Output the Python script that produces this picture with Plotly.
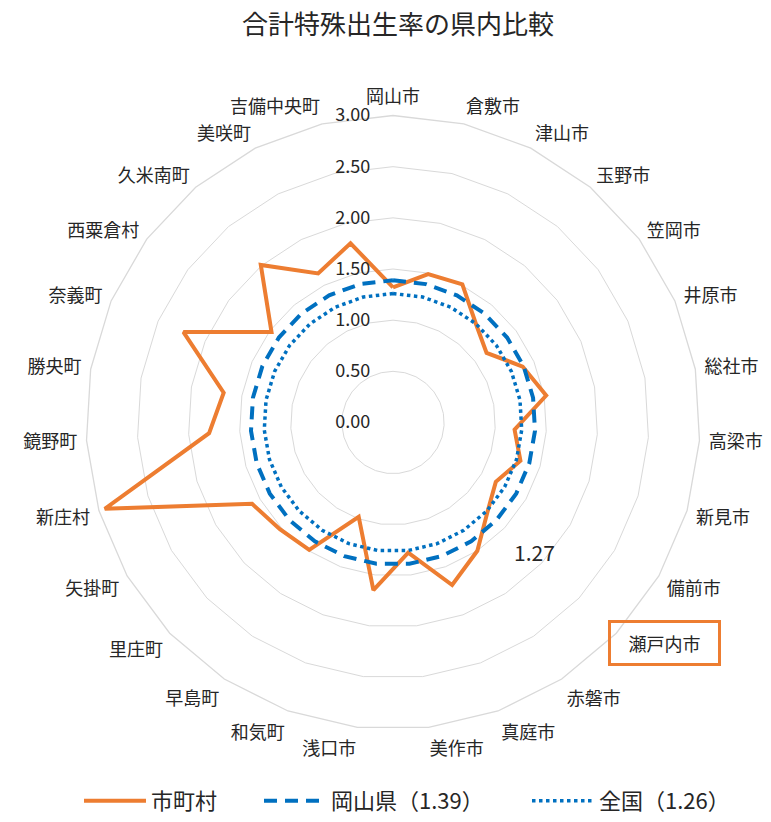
import plotly.graph_objects as go

categories = ["岡山市", "倉敷市", "津山市", "玉野市", "笠岡市", "井原市", "総社市", "高梁市", "新見市",
              "備前市", "瀬戸内市", "赤磐市", "真庭市", "美作市", "浅口市", "和気町", "早島町", "里庄町",
              "矢掛町", "新庄村", "鏡野町", "勝央町", "奈義町", "西粟倉村", "久米南町", "美咲町", "吉備中央町"]
municipal_tfr = [1.32, 1.49, 1.51, 1.26, 1.14, 1.38, 1.52, 1.19, 1.30,
                 1.16, 1.27, 1.50, 1.69, 1.28, 1.65, 0.98, 1.49, 1.52,
                 1.59, 2.94, 1.80, 1.68, 2.23, 1.48, 2.01, 1.63, 1.80]
pref_value = 1.39
national_value = 1.26
highlight = "瀬戸内市"
radial_ticks = [0, 0.5, 1.0, 1.5, 2.0, 2.5, 3.0]

FONT = "Noto Sans CJK JP"
ORANGE = "#ED7D31"
BLUE = "#0070C0"
TXT = "#262626"

theta_closed = categories + [categories[0]]
muni_closed = municipal_tfr + [municipal_tfr[0]]
pref_closed = [pref_value] * len(theta_closed)
nat_closed = [national_value] * len(theta_closed)
hl_value = municipal_tfr[categories.index(highlight)]
tick_text = ["" if c == highlight else c for c in categories]

fig = go.Figure()
fig.add_trace(go.Scatterpolar(r=muni_closed, theta=theta_closed, mode="lines", name="市町村",
                              line=dict(color=ORANGE, width=4), legend="legend"))
fig.add_trace(go.Scatterpolar(r=pref_closed, theta=theta_closed, mode="lines",
                              name=f"岡山県（{pref_value:.2f}）",
                              line=dict(color=BLUE, width=4, dash="13px,8px"), legend="legend2"))
fig.add_trace(go.Scatterpolar(r=nat_closed, theta=theta_closed, mode="lines",
                              name=f"全国（{national_value:.2f}）",
                              line=dict(color=BLUE, width=3.5, dash="3.5px,3.5px"), legend="legend3"))
fig.add_trace(go.Scatterpolar(r=[1.9], theta=[highlight], mode="text", text=[f"{hl_value:.2f}"],
                              textfont=dict(family=FONT, size=21, color=TXT),
                              showlegend=False, hoverinfo="skip"))

cx, cy, R = 393, 422.5, 307
W, H = 771, 822

legend_common = dict(orientation="h", yanchor="bottom", y=0.0,
                     itemwidth=62, font=dict(family=FONT, size=22, color=TXT), bgcolor="rgba(0,0,0,0)")

fig.update_layout(
    width=W, height=H,
    margin=dict(l=0, r=0, t=0, b=0),
    paper_bgcolor="white",
    font=dict(family=FONT, color=TXT),
    title=dict(text="合計特殊出生率の県内比較", x=398 / W, y=1 - 25 / H, xanchor="center", yanchor="middle",
               font=dict(family=FONT, size=26, color=TXT)),
    polar=dict(
        domain=dict(x=[(cx - R) / W, (cx + R) / W], y=[1 - (cy + R) / H, 1 - (cy - R) / H]),
        bgcolor="white",
        gridshape="linear",
        radialaxis=dict(range=[0, 3], tickvals=radial_ticks, tickformat=".2f", angle=90, tickangle=90,
                        side="counterclockwise", showline=False,
                        ticks="outside", ticklen=16, tickcolor="rgba(0,0,0,0)",
                        gridcolor="#d9d9d9", gridwidth=1.3,
                        tickfont=dict(family=FONT, size=18, color=TXT)),
        angularaxis=dict(direction="clockwise", rotation=90, showgrid=False,
                         tickmode="array", tickvals=categories, ticktext=tick_text,
                         ticks="outside", ticklen=5, tickcolor="rgba(0,0,0,0)",
                         showline=True, linecolor="#d9d9d9", linewidth=1.3,
                         tickfont=dict(family=FONT, size=18, color=TXT)),
    ),
    annotations=[dict(text=highlight, xref="paper", yref="paper", x=664.5 / W, y=1 - 642.5 / H,
                      xanchor="center", yanchor="middle", showarrow=False, width=103, height=36,
                      borderpad=2, bordercolor=ORANGE, borderwidth=3,
                      font=dict(family=FONT, size=18, color=TXT))],
    legend=dict(x=79 / W, xanchor="left", **legend_common),
    legend2=dict(x=259 / W, xanchor="left", **legend_common),
    legend3=dict(x=527 / W, xanchor="left", **legend_common),
    showlegend=True,
)

fig.write_html("out.html", config={"displayModeBar": False},
               post_script="document.body.style.margin='0';")
